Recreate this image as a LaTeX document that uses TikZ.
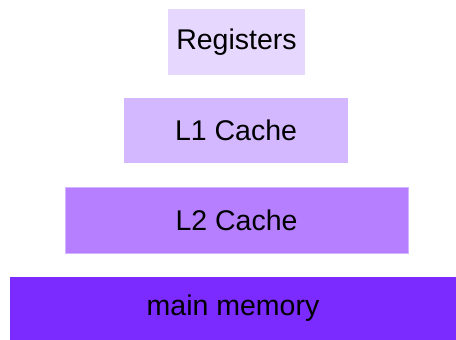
\documentclass[tikz,border=0pt]{standalone}
\usepackage{fontspec}
\setmainfont{Liberation Sans}
\usepackage{tikz}
\usetikzlibrary{positioning}

\definecolor{regcol}{HTML}{E6D7FF}
\definecolor{lonecol}{HTML}{D3B7FF}
\definecolor{ltwocol}{HTML}{B57FFF}
\definecolor{memcol}{HTML}{7B2BFF}

\begin{document}
\begin{tikzpicture}[x=1pt,y=-1pt,
    level/.style={rectangle,inner sep=0pt,font=\fontsize{28.5}{32}\selectfont,text=black}]

    \useasboundingbox (0,0) rectangle (456,340);

    % Levels of the hierarchy, top to bottom
    \node[level,fill=regcol,minimum width=137pt,minimum height=66pt] (REG) at (236.5,42) {Registers};
    \node[level,fill=lonecol,minimum width=224pt,minimum height=65pt] (L1) at (236,130.5) {L1 Cache};
    \node[level,fill=ltwocol,draw=ltwocol!60!white,line width=0.6pt,minimum width=343pt,minimum height=66pt] (L2) at (236.5,220) {L2 Cache};
    \node[level,fill=memcol,minimum width=446pt,minimum height=63pt] (MEM) at (233,308.5) {main memory};

\end{tikzpicture}
\end{document}
